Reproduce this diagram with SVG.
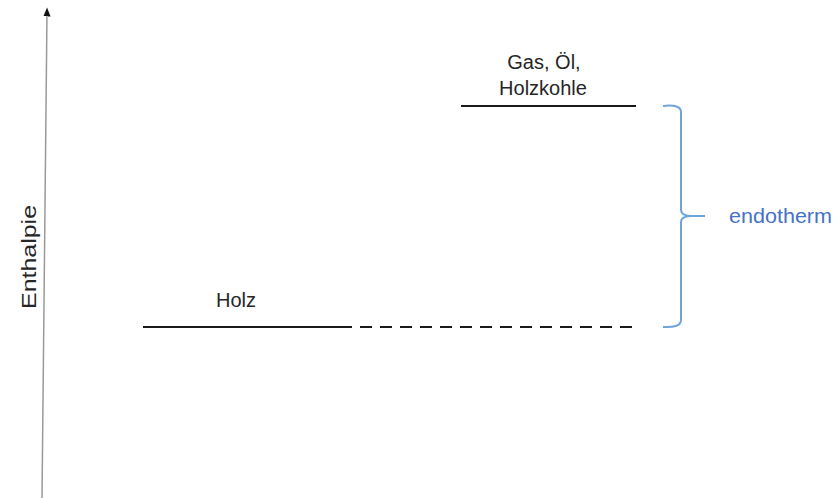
<svg xmlns="http://www.w3.org/2000/svg" width="835" height="498" viewBox="0 0 835 498">
<style>
text{font-family:"Liberation Sans","Open Sans",sans-serif;fill:#262626;font-size:20px;}
.lvl{stroke:#1a1a1a;stroke-width:2.2;fill:none;}
.brace{stroke:#6fa3dc;stroke-width:2;fill:none;}
</style>
<defs>
<marker id="ah" viewBox="0 0 10 10" refX="5" refY="5" markerWidth="6" markerHeight="6" orient="auto">
<path d="M0,1 L10,5 L0,9 Z" fill="#111"/>
</marker>
</defs>
<rect width="835" height="498" fill="#fff"/>
<g id="axis">
<line x1="42" y1="498" x2="47" y2="12" stroke="#9a9a9a" stroke-width="1.5" marker-end="url(#ah)"/>
<text transform="translate(36,257) rotate(-90)" text-anchor="middle" font-size="21" textLength="104" lengthAdjust="spacingAndGlyphs">Enthalpie</text>
</g>
<g id="holz">
<line class="lvl" x1="143" y1="327" x2="352" y2="327"/>
<text x="236" y="307" text-anchor="middle">Holz</text>
</g>
<g id="gas">
<line class="lvl" x1="461" y1="106" x2="636" y2="106"/>
<text x="544" y="69" text-anchor="middle">Gas, Öl,</text>
<text x="543" y="95" text-anchor="middle">Holzkohle</text>
</g>
<g id="connectors">
<line class="lvl" x1="360" y1="327" x2="632" y2="327" stroke-dasharray="12 8"/>
<path class="brace" d="M663,106 Q681,104 681,112 L681,210 Q681,216 692,216 L705,216 M692,216 Q681,216 681,222 L681,320 Q681,328 663,327"/>
</g>
<g id="endotherm">
<text x="729" y="223" textLength="103" lengthAdjust="spacingAndGlyphs" style="fill:#4472c4">endotherm</text>
</g>
</svg>
